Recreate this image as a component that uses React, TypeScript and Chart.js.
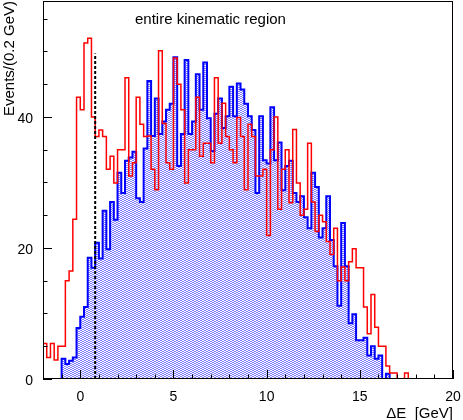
import { useEffect, useRef } from "react";
import { Chart, registerables } from "chart.js";

Chart.register(...registerables);

// Histogram binning: 110 bins of 0.2 GeV from -2 to 20
const binLow = -2;
const binWidth = 0.2;

const redCounts = [
  5.4, 3.3, 5.4, 2.9, 5.0, 5.0, 15.0, 16.5, 24.4, 43.0,
  41.1, 51.3, 52.0, 40.0, 37.0, 38.0, 37.0, 32.0, 34.0, 29.9,
  35.0, 35.0, 46.0, 31.0, 33.0, 43.0, 38.9, 37.0, 37.1, 32.0,
  28.9, 50.1, 39.0, 33.0, 32.0, 49.0, 45.0, 41.1, 29.9, 35.0,
  35.0, 43.0, 34.0, 36.0, 36.0, 33.0, 46.0, 36.0, 42.1, 37.0,
  35.0, 33.0, 39.9, 37.0, 28.9, 38.9, 37.0, 31.0, 31.0, 32.0,
  21.9, 35.0, 40.0, 25.9, 32.0, 35.0, 26.9, 38.1, 29.9, 25.0,
  25.9, 36.0, 27.0, 22.5, 25.0, 24.0, 21.0, 19.0, 23.0, 15.0,
  17.1, 15.0, 17.9, 19.9, 17.0, 17.0, 11.0, 6.9, 12.9, 7.9,
  5.0, 5.0, 2.0, 0.9, 0.9, 0, 0, 0.9, 0, 0,
  0, 0, 0, 0, 0, 0, 0, 0, 0, 0,
];

const blueCounts = [
  0, 0, 0, 0, 0, 3.1, 2.3, 2.8, 3.3, 7.8,
  9.5, 11.0, 18.5, 17.0, 20.8, 18.4, 25.7, 19.8, 27.0, 24.3,
  31.5, 28.4, 33.3, 33.8, 34.7, 27.6, 27.0, 35.2, 45.5, 37.1,
  42.8, 37.4, 39.3, 41.1, 42.0, 49.1, 32.5, 37.4, 48.7, 37.4,
  39.3, 46.5, 41.1, 48.3, 39.8, 34.8, 40.5, 42.8, 38.3, 40.1,
  44.6, 40.1, 45.1, 44.2, 42.0, 40.1, 38.0, 28.4, 40.1, 33.4,
  32.9, 41.5, 33.4, 36.1, 28.8, 32.5, 33.3, 28.4, 27.0, 27.9,
  24.7, 23.0, 31.5, 29.3, 21.6, 23.0, 27.9, 21.2, 17.2, 11.2,
  23.8, 17.2, 8.5, 9.9, 5.9, 5.9, 6.3, 3.6, 5.0, 3.1,
  3.6, 0, 0.8, 0, 0, 0, 0, 0, 0, 0,
  0, 0, 0, 0, 0, 0, 0, 0, 0, 0,
];

const cutValue = 0.8;
const cutHeight = 49.7;

const xMin = -2;
const xMax = 20;
const yMin = 0;
const yMax = 57.7;

const xMajorTicks = [0, 5, 10, 15, 20];
const xTickLabels = ["0", "5", "10", "15", "20"];
const xMinorTicks = [-1, 1, 2, 3, 4, 6, 7, 8, 9, 11, 12, 13, 14, 16, 17, 18, 19];
const yMajorTicks = [0, 20, 40];
const yTickLabels = ["0", "20", "40"];
const yMinorTicks = [5, 10, 15, 25, 30, 35, 45, 50, 55];

const titleText = "entire kinematic region";
const xTitle = "\u0394E  [GeV]";
const yTitle = "Events/(0.2 GeV)";

function histPoints(counts: number[]) {
  const pts: { x: number; y: number }[] = [{ x: binLow, y: 0 }];
  counts.forEach((c, i) => pts.push({ x: binLow + i * binWidth, y: c }));
  pts.push({ x: binLow + counts.length * binWidth, y: 0 });
  return pts;
}

const FONT = "'Liberation Sans', Arial, Helvetica, sans-serif";

export default function App() {
  const ref = useRef<HTMLCanvasElement | null>(null);

  useEffect(() => {
    document.body.style.margin = "0";
    const canvas = ref.current;
    if (!canvas) return;
    const ctx = canvas.getContext("2d")!;

    const pc = document.createElement("canvas");
    pc.width = 4;
    pc.height = 2;
    const pctx = pc.getContext("2d")!;
    pctx.fillStyle = "rgba(40,40,255,0.6)";
    pctx.fillRect(0, 0, 2, 1);
    pctx.fillRect(2, 1, 2, 1);
    const pattern = ctx.createPattern(pc, "repeat")!;

    const framePlugin = {
      id: "rootFrame",
      afterDraw(chart: any) {
        const c = chart.ctx as CanvasRenderingContext2D;
        const { left, right, top, bottom } = chart.chartArea;
        const xs = chart.scales.x;
        const ys = chart.scales.y;
        c.save();
        c.strokeStyle = "#000";
        c.lineWidth = 1;
        c.strokeRect(left + 0.5, top + 0.5, right - left - 1, bottom - top - 1);
        c.beginPath();
        xMajorTicks.forEach((v) => {
          const px = Math.round(xs.getPixelForValue(v)) + 0.5;
          c.moveTo(px, bottom);
          c.lineTo(px, bottom - 9);
        });
        xMinorTicks.forEach((v) => {
          const px = Math.round(xs.getPixelForValue(v)) + 0.5;
          c.moveTo(px, bottom);
          c.lineTo(px, bottom - 4.5);
        });
        yMajorTicks.forEach((v) => {
          const py = Math.round(ys.getPixelForValue(v)) + 0.5;
          c.moveTo(left, py);
          c.lineTo(left + 9, py);
        });
        yMinorTicks.forEach((v) => {
          const py = Math.round(ys.getPixelForValue(v)) + 0.5;
          c.moveTo(left, py);
          c.lineTo(left + 4.5, py);
        });
        c.stroke();

        c.fillStyle = "#000";
        c.font = `14px ${FONT}`;
        c.textAlign = "center";
        c.textBaseline = "alphabetic";
        xMajorTicks.forEach((v, i) => {
          c.fillText(xTickLabels[i], xs.getPixelForValue(v), 401);
        });
        c.textAlign = "right";
        c.textBaseline = "middle";
        yMajorTicks.forEach((v, i) => {
          c.fillText(yTickLabels[i], 33, ys.getPixelForValue(v) + 2);
        });

        c.font = `15px ${FONT}`;
        c.textAlign = "left";
        c.textBaseline = "alphabetic";
        c.fillText(titleText, 135, 24);

        c.textAlign = "right";
        c.fillText(xTitle, 453, 418);

        c.save();
        c.translate(14, 1);
        c.rotate(-Math.PI / 2);
        c.textAlign = "right";
        c.textBaseline = "alphabetic";
        c.fillText(yTitle, 0, 0);
        c.restore();
        c.restore();
      },
    };

    const chart = new Chart(ctx, {
      type: "line",
      data: {
        datasets: [
          {
            label: "cut",
            data: [
              { x: cutValue, y: 0 },
              { x: cutValue, y: cutHeight },
            ],
            borderColor: "#000",
            borderWidth: 2,
            borderDash: [3, 2],
            pointRadius: 0,
            fill: false,
          },
          {
            label: "red",
            data: histPoints(redCounts),
            borderColor: "#ff0000",
            borderWidth: 1.5,
            stepped: "before",
            pointRadius: 0,
            fill: false,
          },
          {
            label: "blue",
            data: histPoints(blueCounts),
            borderColor: "#0000ff",
            borderWidth: 2,
            stepped: "before",
            pointRadius: 0,
            fill: "origin",
            backgroundColor: pattern as any,
          },
        ],
      },
      options: {
        animation: false,
        responsive: false,
        events: [],
        layout: { padding: { left: 43, right: 10, top: 1, bottom: 41 } },
        plugins: {
          legend: { display: false },
          tooltip: { enabled: false },
          title: { display: false },
        },
        scales: {
          x: { type: "linear", min: xMin, max: xMax, display: false },
          y: { type: "linear", min: yMin, max: yMax, display: false },
        },
      },
      plugins: [framePlugin],
    });

    return () => chart.destroy();
  }, []);

  return <canvas ref={ref} width={463} height={420} style={{ display: "block" }} />;
}
